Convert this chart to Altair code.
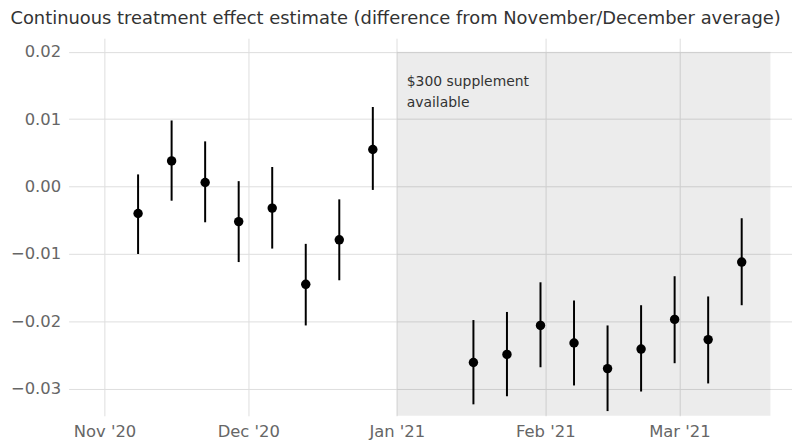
import altair as alt
import pandas as pd

weeks = [
    "2020-11-08", "2020-11-15", "2020-11-22", "2020-11-29",
    "2020-12-06", "2020-12-13", "2020-12-20", "2020-12-27",
    "2021-01-17", "2021-01-24", "2021-01-31", "2021-02-07",
    "2021-02-14", "2021-02-21", "2021-02-28", "2021-03-07", "2021-03-14",
]
estimate = [-0.0040, 0.0038, 0.0006, -0.0052, -0.0032, -0.0145, -0.0079, 0.0055,
            -0.0261, -0.0249, -0.0206, -0.0232, -0.0270, -0.0241, -0.0197, -0.0227, -0.0112]
upper = [0.0018, 0.0098, 0.0067, 0.0008, 0.0029, -0.0085, -0.0019, 0.0118,
         -0.0198, -0.0186, -0.0142, -0.0169, -0.0206, -0.0176, -0.0133, -0.0163, -0.0047]
lower = [-0.0100, -0.0021, -0.0053, -0.0112, -0.0092, -0.0206, -0.0139, -0.0005,
         -0.0323, -0.0311, -0.0268, -0.0295, -0.0333, -0.0304, -0.0262, -0.0292, -0.0176]

shade_start = ["2021-01-01"]
shade_end = ["2021-03-20"]
shade_top = [0.02]
shade_bottom = [-0.034]

note_lines = ["$300 supplement", "available"]
title_text = "Continuous treatment effect estimate (difference from November/December average)"

FONT = "DejaVu Sans"

df = pd.DataFrame({
    "week": [w + "T00:00:00" for w in weeks],
    "estimate": estimate,
    "upper": upper,
    "lower": lower,
})
shade = pd.DataFrame({
    "start": [s + "T00:00:00" for s in shade_start],
    "end": [e + "T00:00:00" for e in shade_end],
    "top": shade_top,
    "bottom": shade_bottom,
})
note = pd.DataFrame({
    "x": [shade_start[0] + "T00:00:00"],
    "y": [shade_top[0]],
    "label": [note_lines],
})

x_scale = alt.Scale(domain=[
    alt.DateTime(year=2020, month=10, date=24, hours=12),
    alt.DateTime(year=2021, month=3, date=24, hours=12),
])
y_scale = alt.Scale(domain=[-0.034, 0.022], nice=False, zero=False)

x_axis = alt.Axis(
    title=None, format="%b '%y", tickCount={"interval": "month", "step": 1},
    ticks=False, domain=False, labelPadding=8, labelFontSize=16.5,
    labelColor="#666666", labelFont=FONT, gridColor="#dedede", gridWidth=1,
)
y_axis = alt.Axis(
    title=None, values=[-0.03, -0.02, -0.01, 0.0, 0.01, 0.02], format=".2f",
    ticks=False, domain=False, labelPadding=8, labelFontSize=16.5,
    labelColor="#666666", labelFont=FONT, gridColor="#dedede", gridWidth=1,
)

rect = alt.Chart(shade).mark_rect(color="black", opacity=0.075).encode(
    x=alt.X("start:T", scale=x_scale, axis=x_axis),
    x2="end:T",
    y=alt.Y("top:Q", scale=y_scale, axis=y_axis),
    y2="bottom:Q",
)

bars = alt.Chart(df).mark_rule(color="black", strokeWidth=2).encode(
    x=alt.X("week:T", scale=x_scale),
    y=alt.Y("lower:Q", scale=y_scale),
    y2="upper:Q",
)

points = alt.Chart(df).mark_circle(color="black", opacity=1, size=90).encode(
    x=alt.X("week:T", scale=x_scale),
    y=alt.Y("estimate:Q", scale=y_scale),
)

text = alt.Chart(note).mark_text(
    align="left", baseline="top", dx=10, dy=24, fontSize=14, lineHeight=21,
    font=FONT, color="#333333",
).encode(
    x=alt.X("x:T", scale=x_scale),
    y=alt.Y("y:Q", scale=y_scale),
    text="label",
)

chart = alt.layer(rect, bars, points, text).properties(
    width=728,
    height=380,
    autosize=alt.AutoSizeParams(type="none"),
    padding={"left": 61, "top": 29, "right": 0, "bottom": 30},
    title=alt.TitleParams(
        title_text, anchor="start", frame="bounds", fontSize=18, font=FONT,
        fontWeight="normal", color="#333333", offset=10,
    ),
).configure_view(stroke=None)

chart.save("out.html", embed_options={"renderer": "svg", "actions": False})
